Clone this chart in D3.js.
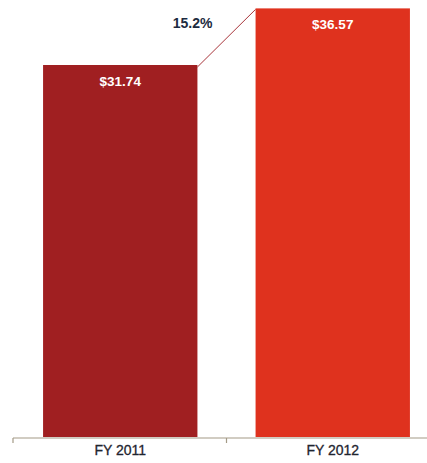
<!DOCTYPE html>
<html>
<head>
<meta charset="utf-8">
<script src="https://cdn.jsdelivr.net/npm/d3@7"></script>
<style>
  html, body { margin: 0; padding: 0; background: #fff; }
  svg { display: block; }
  text { font-family: "Liberation Sans", Arial, sans-serif; }
</style>
</head>
<body>
<script>
// Fiscal-year values and their display labels
const categories = ["FY 2011", "FY 2012"];
const values = [31.74, 36.57];
const valueLabels = ["$31.74", "$36.57"];
const barColors = ["#a01f21", "#df321e"];
const growthLabel = "15.2%";

const width = 427, height = 463;
const baseY = 437;

const svg = d3.select("body").append("svg")
  .attr("width", width)
  .attr("height", height);

const x = d3.scaleBand()
  .domain(categories)
  .range([13, 440])
  .paddingInner(0.2736)
  .paddingOuter(0.1415);

const y = d3.scaleLinear()
  .domain([0, 31.74])
  .range([baseY, 65]);

// Bars
svg.selectAll("rect.bar")
  .data(values)
  .join("rect")
  .attr("class", "bar")
  .attr("x", (d, i) => x(categories[i]))
  .attr("y", d => y(d))
  .attr("width", x.bandwidth())
  .attr("height", d => baseY - y(d))
  .attr("fill", (d, i) => barColors[i]);

// Value labels inside bars
svg.selectAll("text.val")
  .data(values)
  .join("text")
  .attr("class", "val")
  .attr("x", (d, i) => x(categories[i]) + x.bandwidth() / 2)
  .attr("y", d => y(d) + 21)
  .attr("text-anchor", "middle")
  .attr("fill", "#fff")
  .attr("font-size", 13.5)
  .attr("font-weight", "bold")
  .text((d, i) => valueLabels[i]);

// Growth connector between bar tops
const x0 = x(categories[0]) + x.bandwidth();
const x1 = x(categories[1]);
svg.append("line")
  .attr("x1", x0).attr("y1", y(values[0]) + 2)
  .attr("x2", x1).attr("y2", y(values[1]) + 1)
  .attr("stroke", "#a8343a")
  .attr("stroke-width", 1);

svg.append("text")
  .attr("x", x0 + 15)
  .attr("y", 28)
  .attr("text-anchor", "end")
  .attr("fill", "#1c2b40")
  .attr("font-size", 14)
  .attr("font-weight", "bold")
  .text(growthLabel);

// Category axis with ticks at band boundaries
const axisG = svg.append("g").attr("transform", `translate(0,${baseY + 1})`);
axisG.append("line")
  .attr("x1", 13).attr("x2", 440)
  .attr("stroke", "#a39a86").attr("stroke-width", 1.2);
const bounds = [13, x(categories[0]) + x.bandwidth() + (x.step() - x.bandwidth()) / 2, 440];
axisG.selectAll("line.tick")
  .data(bounds)
  .join("line")
  .attr("class", "tick")
  .attr("x1", d => d).attr("x2", d => d)
  .attr("y1", 0).attr("y2", 5)
  .attr("stroke", "#a39a86").attr("stroke-width", 1.2);

axisG.selectAll("text.cat")
  .data(categories)
  .join("text")
  .attr("class", "cat")
  .attr("x", d => x(d) + x.bandwidth() / 2)
  .attr("y", 17)
  .attr("text-anchor", "middle")
  .attr("fill", "#1f2530")
  .attr("font-size", 14)
  .attr("stroke", "#1f2530")
  .attr("stroke-width", 0.3)
  .text(d => d);
</script>
</body>
</html>
